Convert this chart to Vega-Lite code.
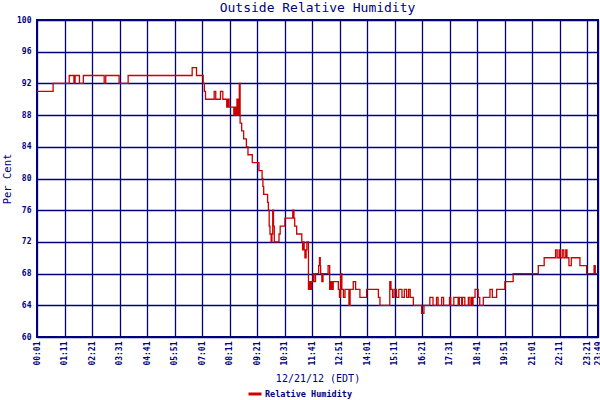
{
  "$schema": "https://vega.github.io/schema/vega-lite/v6.json",
  "width": 561,
  "height": 317,
  "autosize": {"type": "none"},
  "padding": {"left": 37, "top": 20, "right": 2, "bottom": 63},
  "background": "white",
  "title": {
    "text": "Outside Relative Humidity",
    "font": "DejaVu Sans Mono",
    "fontSize": 13,
    "fontWeight": "normal",
    "color": "#000080",
    "anchor": "middle",
    "offset": 1
  },
  "data": {
    "values": [
      {"time": "2012-12-21T00:01", "rh": 91},
      {"time": "2012-12-21T00:42", "rh": 92},
      {"time": "2012-12-21T01:23", "rh": 93},
      {"time": "2012-12-21T01:35", "rh": 92},
      {"time": "2012-12-21T01:38", "rh": 93},
      {"time": "2012-12-21T01:49", "rh": 92},
      {"time": "2012-12-21T01:59", "rh": 93},
      {"time": "2012-12-21T02:52", "rh": 92},
      {"time": "2012-12-21T02:56", "rh": 93},
      {"time": "2012-12-21T03:30", "rh": 92},
      {"time": "2012-12-21T03:53", "rh": 93},
      {"time": "2012-12-21T06:36", "rh": 94},
      {"time": "2012-12-21T06:47", "rh": 93},
      {"time": "2012-12-21T07:04", "rh": 92},
      {"time": "2012-12-21T07:07", "rh": 91},
      {"time": "2012-12-21T07:10", "rh": 90},
      {"time": "2012-12-21T07:32", "rh": 91},
      {"time": "2012-12-21T07:36", "rh": 90},
      {"time": "2012-12-21T07:48", "rh": 91},
      {"time": "2012-12-21T07:54", "rh": 90},
      {"time": "2012-12-21T08:04", "rh": 89},
      {"time": "2012-12-21T08:07", "rh": 90},
      {"time": "2012-12-21T08:10", "rh": 89},
      {"time": "2012-12-21T08:22", "rh": 88},
      {"time": "2012-12-21T08:25", "rh": 89},
      {"time": "2012-12-21T08:28", "rh": 88},
      {"time": "2012-12-21T08:30", "rh": 90},
      {"time": "2012-12-21T08:33", "rh": 88},
      {"time": "2012-12-21T08:36", "rh": 92},
      {"time": "2012-12-21T08:38", "rh": 87},
      {"time": "2012-12-21T08:42", "rh": 86},
      {"time": "2012-12-21T08:47", "rh": 85},
      {"time": "2012-12-21T08:54", "rh": 84},
      {"time": "2012-12-21T08:58", "rh": 83},
      {"time": "2012-12-21T09:09", "rh": 82},
      {"time": "2012-12-21T09:26", "rh": 81},
      {"time": "2012-12-21T09:34", "rh": 80},
      {"time": "2012-12-21T09:36", "rh": 79},
      {"time": "2012-12-21T09:38", "rh": 78},
      {"time": "2012-12-21T09:48", "rh": 77},
      {"time": "2012-12-21T09:50", "rh": 76},
      {"time": "2012-12-21T09:52", "rh": 74},
      {"time": "2012-12-21T09:54", "rh": 73},
      {"time": "2012-12-21T09:57", "rh": 72},
      {"time": "2012-12-21T09:59", "rh": 73},
      {"time": "2012-12-21T10:01", "rh": 76},
      {"time": "2012-12-21T10:03", "rh": 74},
      {"time": "2012-12-21T10:05", "rh": 72},
      {"time": "2012-12-21T10:17", "rh": 73},
      {"time": "2012-12-21T10:20", "rh": 74},
      {"time": "2012-12-21T10:32", "rh": 75},
      {"time": "2012-12-21T10:52", "rh": 76},
      {"time": "2012-12-21T10:55", "rh": 75},
      {"time": "2012-12-21T10:57", "rh": 74},
      {"time": "2012-12-21T11:02", "rh": 73},
      {"time": "2012-12-21T11:15", "rh": 72},
      {"time": "2012-12-21T11:17", "rh": 71},
      {"time": "2012-12-21T11:19", "rh": 72},
      {"time": "2012-12-21T11:21", "rh": 71},
      {"time": "2012-12-21T11:23", "rh": 70},
      {"time": "2012-12-21T11:26", "rh": 71},
      {"time": "2012-12-21T11:28", "rh": 72},
      {"time": "2012-12-21T11:32", "rh": 66},
      {"time": "2012-12-21T11:35", "rh": 67},
      {"time": "2012-12-21T11:37", "rh": 66},
      {"time": "2012-12-21T11:40", "rh": 67},
      {"time": "2012-12-21T11:44", "rh": 68},
      {"time": "2012-12-21T11:46", "rh": 67},
      {"time": "2012-12-21T11:50", "rh": 68},
      {"time": "2012-12-21T11:58", "rh": 69},
      {"time": "2012-12-21T12:00", "rh": 70},
      {"time": "2012-12-21T12:02", "rh": 69},
      {"time": "2012-12-21T12:03", "rh": 68},
      {"time": "2012-12-21T12:06", "rh": 67},
      {"time": "2012-12-21T12:09", "rh": 68},
      {"time": "2012-12-21T12:22", "rh": 69},
      {"time": "2012-12-21T12:26", "rh": 66},
      {"time": "2012-12-21T12:29", "rh": 67},
      {"time": "2012-12-21T12:32", "rh": 66},
      {"time": "2012-12-21T12:35", "rh": 67},
      {"time": "2012-12-21T12:48", "rh": 66},
      {"time": "2012-12-21T12:51", "rh": 65},
      {"time": "2012-12-21T12:54", "rh": 68},
      {"time": "2012-12-21T12:57", "rh": 66},
      {"time": "2012-12-21T13:01", "rh": 65},
      {"time": "2012-12-21T13:05", "rh": 66},
      {"time": "2012-12-21T13:15", "rh": 64},
      {"time": "2012-12-21T13:18", "rh": 66},
      {"time": "2012-12-21T13:26", "rh": 67},
      {"time": "2012-12-21T13:32", "rh": 66},
      {"time": "2012-12-21T13:43", "rh": 65},
      {"time": "2012-12-21T14:00", "rh": 66},
      {"time": "2012-12-21T14:30", "rh": 65},
      {"time": "2012-12-21T14:34", "rh": 64},
      {"time": "2012-12-21T14:59", "rh": 67},
      {"time": "2012-12-21T15:02", "rh": 66},
      {"time": "2012-12-21T15:06", "rh": 65},
      {"time": "2012-12-21T15:10", "rh": 66},
      {"time": "2012-12-21T15:16", "rh": 65},
      {"time": "2012-12-21T15:22", "rh": 66},
      {"time": "2012-12-21T15:30", "rh": 65},
      {"time": "2012-12-21T15:36", "rh": 66},
      {"time": "2012-12-21T15:42", "rh": 65},
      {"time": "2012-12-21T15:47", "rh": 66},
      {"time": "2012-12-21T15:51", "rh": 65},
      {"time": "2012-12-21T15:59", "rh": 64},
      {"time": "2012-12-21T16:20", "rh": 63},
      {"time": "2012-12-21T16:26", "rh": 64},
      {"time": "2012-12-21T16:41", "rh": 65},
      {"time": "2012-12-21T16:49", "rh": 64},
      {"time": "2012-12-21T16:58", "rh": 65},
      {"time": "2012-12-21T17:02", "rh": 64},
      {"time": "2012-12-21T17:11", "rh": 65},
      {"time": "2012-12-21T17:16", "rh": 64},
      {"time": "2012-12-21T17:31", "rh": 65},
      {"time": "2012-12-21T17:34", "rh": 64},
      {"time": "2012-12-21T17:42", "rh": 65},
      {"time": "2012-12-21T17:53", "rh": 64},
      {"time": "2012-12-21T17:56", "rh": 65},
      {"time": "2012-12-21T18:02", "rh": 64},
      {"time": "2012-12-21T18:04", "rh": 65},
      {"time": "2012-12-21T18:10", "rh": 64},
      {"time": "2012-12-21T18:19", "rh": 65},
      {"time": "2012-12-21T18:23", "rh": 64},
      {"time": "2012-12-21T18:27", "rh": 65},
      {"time": "2012-12-21T18:29", "rh": 64},
      {"time": "2012-12-21T18:31", "rh": 65},
      {"time": "2012-12-21T18:36", "rh": 66},
      {"time": "2012-12-21T18:44", "rh": 65},
      {"time": "2012-12-21T18:48", "rh": 64},
      {"time": "2012-12-21T18:57", "rh": 65},
      {"time": "2012-12-21T19:14", "rh": 66},
      {"time": "2012-12-21T19:20", "rh": 65},
      {"time": "2012-12-21T19:31", "rh": 66},
      {"time": "2012-12-21T19:52", "rh": 67},
      {"time": "2012-12-21T20:13", "rh": 68},
      {"time": "2012-12-21T21:17", "rh": 69},
      {"time": "2012-12-21T21:32", "rh": 70},
      {"time": "2012-12-21T22:01", "rh": 71},
      {"time": "2012-12-21T22:05", "rh": 70},
      {"time": "2012-12-21T22:10", "rh": 71},
      {"time": "2012-12-21T22:13", "rh": 70},
      {"time": "2012-12-21T22:18", "rh": 71},
      {"time": "2012-12-21T22:22", "rh": 70},
      {"time": "2012-12-21T22:27", "rh": 71},
      {"time": "2012-12-21T22:30", "rh": 70},
      {"time": "2012-12-21T22:35", "rh": 69},
      {"time": "2012-12-21T22:41", "rh": 70},
      {"time": "2012-12-21T23:03", "rh": 69},
      {"time": "2012-12-21T23:20", "rh": 68},
      {"time": "2012-12-21T23:39", "rh": 69},
      {"time": "2012-12-21T23:42", "rh": 68},
      {"time": "2012-12-21T23:49", "rh": 68}
    ]
  },
  "mark": {
    "type": "line",
    "interpolate": "step-after",
    "strokeWidth": 1.3,
    "clip": true
  },
  "encoding": {
    "x": {
      "field": "time",
      "type": "temporal",
      "title": "12/21/12 (EDT)",
      "scale": {
        "domain": [
          {"year": 2012, "month": 12, "date": 21, "hours": 0, "minutes": 1},
          {"year": 2012, "month": 12, "date": 21, "hours": 23, "minutes": 49}
        ],
        "nice": false
      },
      "axis": {
        "values": [
          {"year": 2012, "month": 12, "date": 21, "hours": 0, "minutes": 1},
          {"year": 2012, "month": 12, "date": 21, "hours": 1, "minutes": 11},
          {"year": 2012, "month": 12, "date": 21, "hours": 2, "minutes": 21},
          {"year": 2012, "month": 12, "date": 21, "hours": 3, "minutes": 31},
          {"year": 2012, "month": 12, "date": 21, "hours": 4, "minutes": 41},
          {"year": 2012, "month": 12, "date": 21, "hours": 5, "minutes": 51},
          {"year": 2012, "month": 12, "date": 21, "hours": 7, "minutes": 1},
          {"year": 2012, "month": 12, "date": 21, "hours": 8, "minutes": 11},
          {"year": 2012, "month": 12, "date": 21, "hours": 9, "minutes": 21},
          {"year": 2012, "month": 12, "date": 21, "hours": 10, "minutes": 31},
          {"year": 2012, "month": 12, "date": 21, "hours": 11, "minutes": 41},
          {"year": 2012, "month": 12, "date": 21, "hours": 12, "minutes": 51},
          {"year": 2012, "month": 12, "date": 21, "hours": 14, "minutes": 1},
          {"year": 2012, "month": 12, "date": 21, "hours": 15, "minutes": 11},
          {"year": 2012, "month": 12, "date": 21, "hours": 16, "minutes": 21},
          {"year": 2012, "month": 12, "date": 21, "hours": 17, "minutes": 31},
          {"year": 2012, "month": 12, "date": 21, "hours": 18, "minutes": 41},
          {"year": 2012, "month": 12, "date": 21, "hours": 19, "minutes": 51},
          {"year": 2012, "month": 12, "date": 21, "hours": 21, "minutes": 1},
          {"year": 2012, "month": 12, "date": 21, "hours": 22, "minutes": 11},
          {"year": 2012, "month": 12, "date": 21, "hours": 23, "minutes": 21},
          {"year": 2012, "month": 12, "date": 21, "hours": 23, "minutes": 49}
        ],
        "format": "%H:%M",
        "labelAngle": 270,
        "labelPadding": 4,
        "labelOverlap": false,
        "labelFlush": false,
        "titleY": 36,
        "titleBaseline": "top",
        "titleFontSize": 10
      }
    },
    "y": {
      "field": "rh",
      "type": "quantitative",
      "title": "Per Cent",
      "scale": {"domain": [60, 100], "nice": false, "zero": false},
      "axis": {
        "values": [60, 64, 68, 72, 76, 80, 84, 88, 92, 96, 100],
        "labelPadding": 6,
        "titleX": -30,
        "titleY": 158.5,
        "titleBaseline": "middle",
        "titleFontSize": 10.5
      }
    },
    "color": {
      "datum": "Relative Humidity",
      "type": "nominal",
      "scale": {"range": ["#CC0000"]},
      "legend": {
        "title": null,
        "orient": "none",
        "legendX": 210,
        "legendY": 366,
        "symbolType": "stroke",
        "symbolSize": 169,
        "symbolStrokeWidth": 3,
        "labelFont": "DejaVu Sans Mono",
        "labelFontSize": 8.5,
        "labelFontWeight": "bold",
        "labelColor": "#000080",
        "labelOffset": 2
      }
    }
  },
  "config": {
    "view": {"stroke": "#000080", "strokeWidth": 2},
    "axis": {
      "domain": false,
      "ticks": false,
      "grid": true,
      "gridColor": "#000080",
      "gridOpacity": 1,
      "gridWidth": 1.3,
      "labelFont": "DejaVu Sans Mono",
      "labelFontSize": 8,
      "labelFontWeight": "bold",
      "labelColor": "#000080",
      "titleFont": "DejaVu Sans Mono",
      "titleFontWeight": "normal",
      "titleColor": "#000080"
    }
  }
}
